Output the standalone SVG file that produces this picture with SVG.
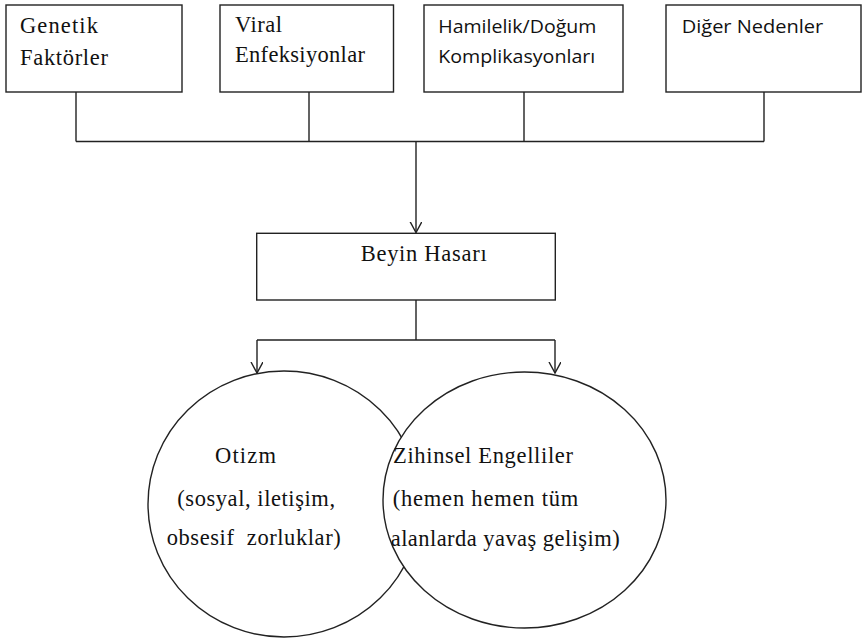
<svg xmlns="http://www.w3.org/2000/svg" width="862" height="638" viewBox="0 0 862 638">
<style>
.box{fill:#fff;stroke:#222;stroke-width:1.4}
.ell{fill:#fff;stroke:#222;stroke-width:1.4}
.ln{fill:none;stroke:#222;stroke-width:1.4}
.serif{font-family:"Liberation Serif","Times New Roman",serif;font-size:22.5px;fill:#111;white-space:pre}
.sans{font-family:"Open Sans","Noto Sans",sans-serif;font-size:18.5px;fill:#111}
</style>
<defs>
<marker id="arr" markerWidth="16" markerHeight="16" refX="11" refY="6" orient="auto" markerUnits="userSpaceOnUse">
<path d="M0,0 L11,6 L0,12" fill="none" stroke="#222" stroke-width="1.4"/>
</marker>
</defs>
<rect width="862" height="638" fill="#fff"/>
<g id="n-genetik">
<rect class="box" x="6" y="5" width="176" height="87"/>
<text class="serif" x="20" y="33.3" textLength="78" lengthAdjust="spacing">Genetik</text>
<text class="serif" x="20" y="65" textLength="88" lengthAdjust="spacing">Faktörler</text>
</g>
<g id="n-viral">
<rect class="box" x="220" y="5" width="173.5" height="87"/>
<text class="serif" x="235" y="32.3" textLength="47" lengthAdjust="spacing">Viral</text>
<text class="serif" x="235" y="61.7" textLength="130" lengthAdjust="spacing">Enfeksiyonlar</text>
</g>
<g id="n-hamilelik">
<rect class="box" x="424" y="5" width="199" height="87"/>
<text class="sans" x="438.3" y="33.3" textLength="158" lengthAdjust="spacingAndGlyphs">Hamilelik/Doğum</text>
<text class="sans" x="438.3" y="63.3" textLength="157" lengthAdjust="spacingAndGlyphs">Komplikasyonları</text>
</g>
<g id="n-diger">
<rect class="box" x="666" y="5" width="195" height="87"/>
<text class="sans" x="681.7" y="33.3" textLength="141.6" lengthAdjust="spacingAndGlyphs">Diğer Nedenler</text>
</g>
<g id="connectors">
<path class="ln" d="M76,92 V141.5 M309,92 V141.5 M524,92 V141.5 M764,92 V141.5 M76,141.5 H764"/>
<path class="ln" d="M416,141.5 V232.5" marker-end="url(#arr)"/>
<path class="ln" d="M416,300 V340 M257,340 H555"/>
<path class="ln" d="M257,340 V373" marker-end="url(#arr)"/>
<path class="ln" d="M555,340 V373" marker-end="url(#arr)"/>
</g>
<g id="n-beyin">
<rect class="box" x="256.7" y="233.3" width="298.6" height="66.7"/>
<text class="serif" x="360.7" y="260.7" textLength="126" lengthAdjust="spacing">Beyin Hasarı</text>
</g>
<g id="n-otizm">
<ellipse class="ell" cx="284" cy="504" rx="136" ry="133"/>
<text class="serif" x="215" y="463.3" textLength="61" lengthAdjust="spacing">Otizm</text>
<text class="serif" x="177.3" y="505.5" textLength="157.7" lengthAdjust="spacing">(sosyal, iletişim,</text>
<text class="serif" x="166.7" y="545" textLength="174" lengthAdjust="spacing">obsesif  zorluklar)</text>
</g>
<g id="n-zihinsel">
<ellipse class="ell" cx="524.5" cy="500" rx="141.5" ry="128"/>
<text class="serif" x="393" y="463.3" textLength="180" lengthAdjust="spacing">Zihinsel Engelliler</text>
<text class="serif" x="392.7" y="506" textLength="185.6" lengthAdjust="spacing">(hemen hemen tüm</text>
<text class="serif" x="390.7" y="546" textLength="229" lengthAdjust="spacing">alanlarda yavaş gelişim)</text>
</g>
</svg>
